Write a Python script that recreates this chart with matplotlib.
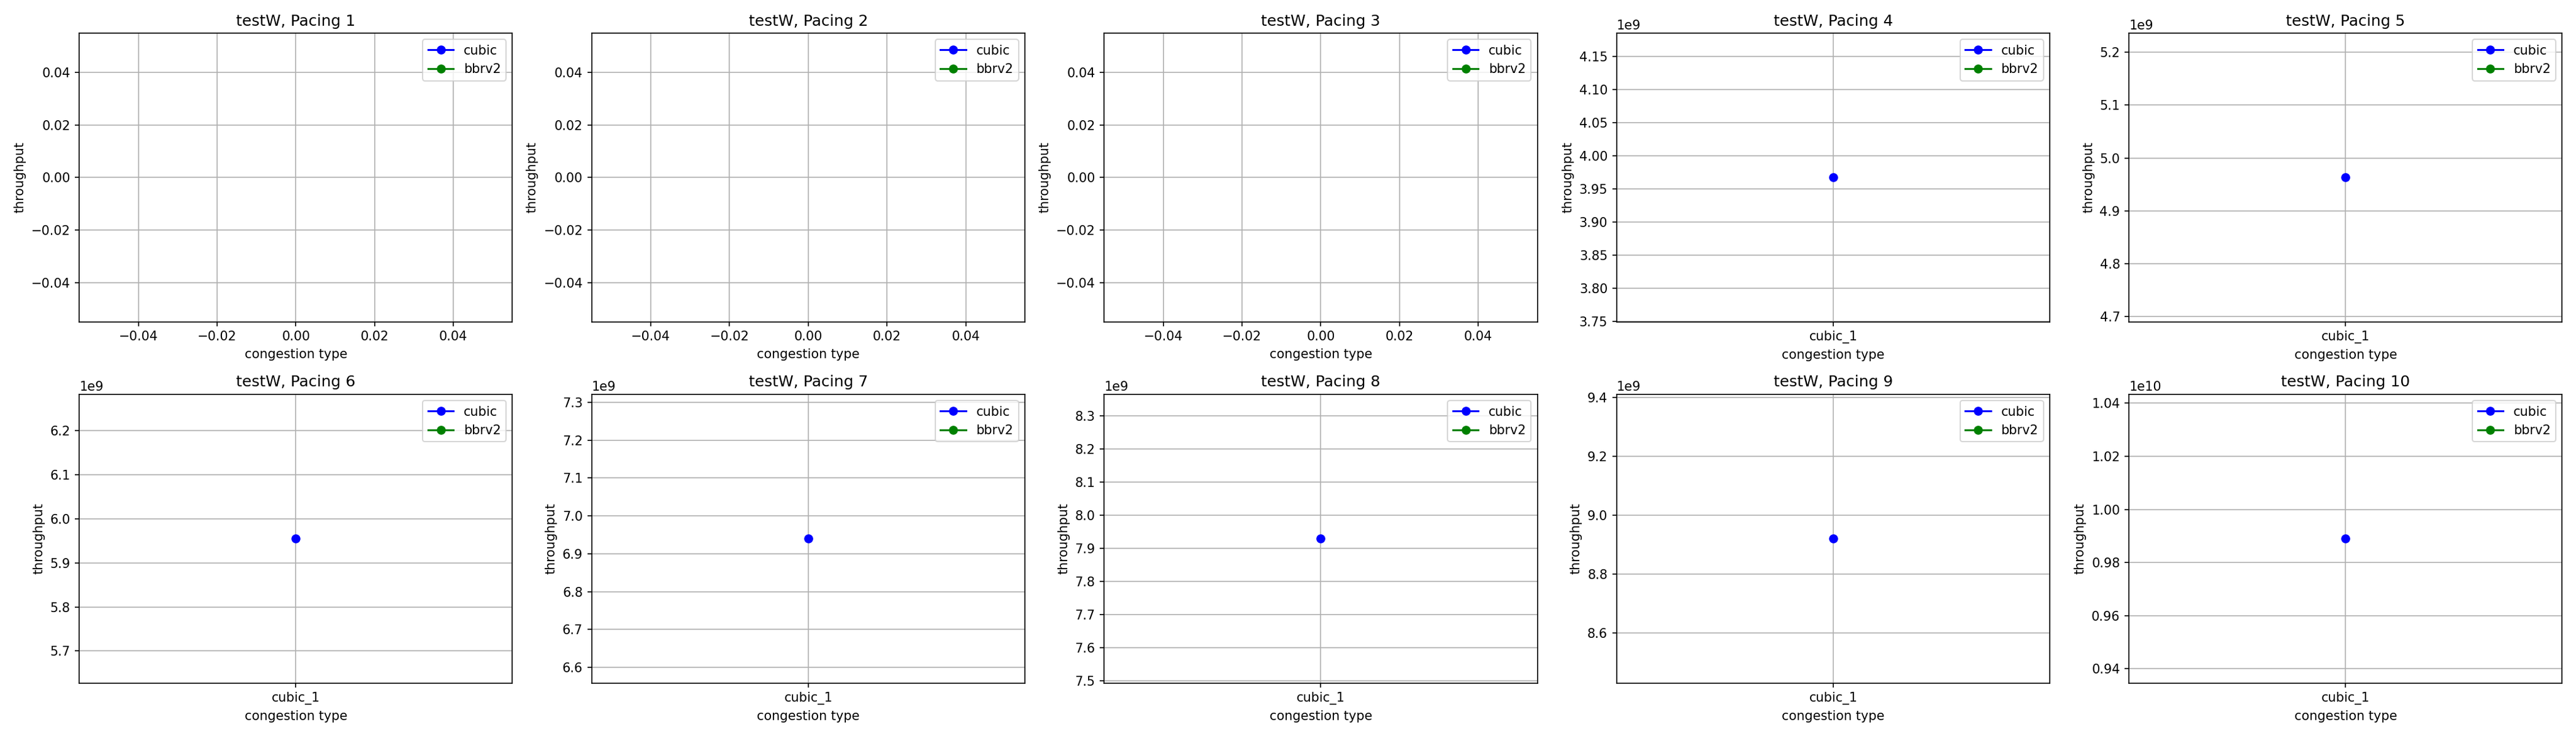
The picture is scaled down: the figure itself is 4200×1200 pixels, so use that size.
import matplotlib
matplotlib.use('Agg')
import matplotlib.pyplot as plt

pacings = [1, 2, 3, 4, 5, 6, 7, 8, 9, 10]
cubic_labels = [[], [], [], ['cubic_1'], ['cubic_1'], ['cubic_1'], ['cubic_1'], ['cubic_1'], ['cubic_1'], ['cubic_1']]
cubic_vals = [[], [], [], [3.967e9], [4.963e9], [5.955e9], [6.94e9], [7.93e9], [8.92e9], [9.89e9]]
bbr_labels = [[] for _ in pacings]
bbr_vals = [[] for _ in pacings]

fig, axes = plt.subplots(2, 5, figsize=(28, 8), dpi=150)
for i, ax in enumerate(axes.flat):
    ax.plot(cubic_labels[i], cubic_vals[i], 'o-', color='blue', label='cubic')
    ax.plot(bbr_labels[i], bbr_vals[i], 'o-', color='green', label='bbrv2')
    ax.set_title('testW, Pacing {0}'.format(pacings[i]))
    ax.set_xlabel('congestion type')
    ax.set_ylabel('throughput')
    ax.legend(loc='upper right')
    ax.grid(True)
plt.tight_layout()
plt.savefig('out.png')
